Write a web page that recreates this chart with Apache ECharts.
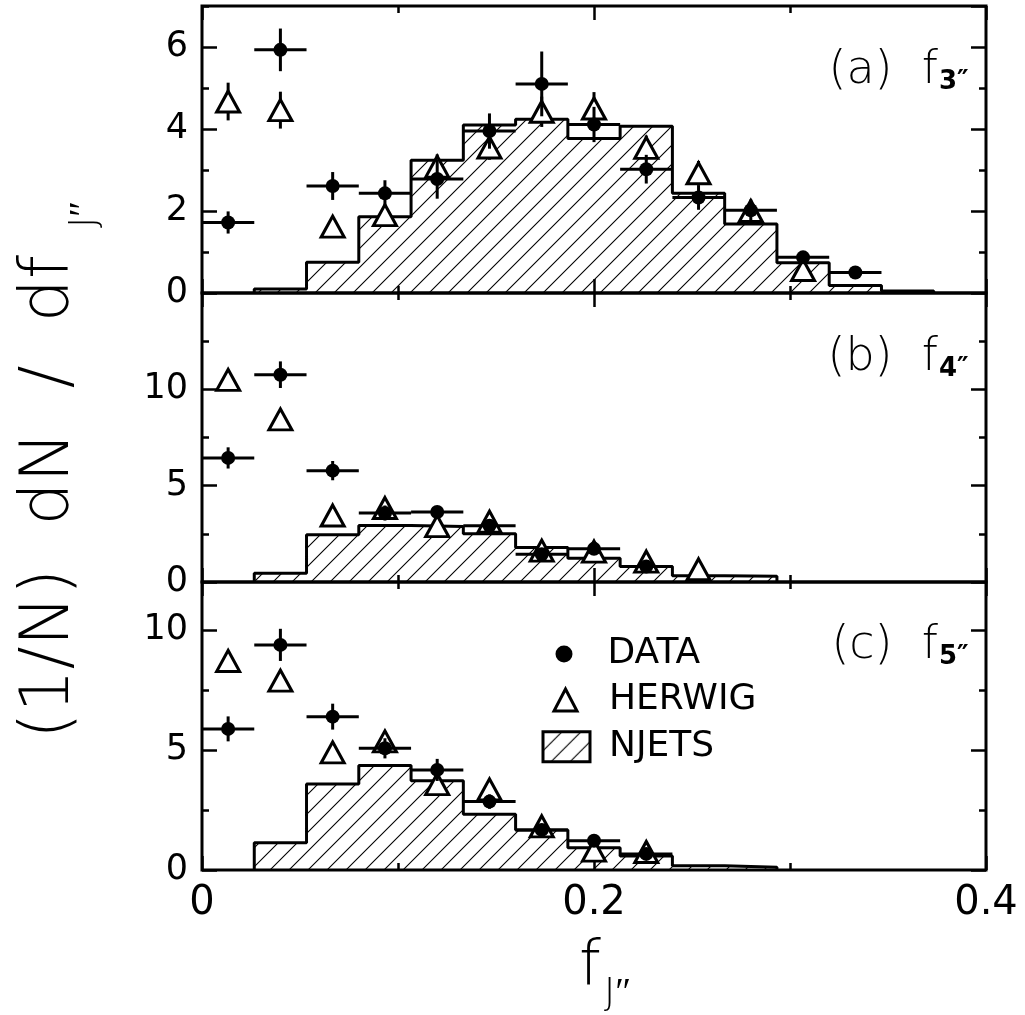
<!DOCTYPE html>
<html><head><meta charset="utf-8">
<script src="https://cdn.jsdelivr.net/npm/echarts@6/dist/echarts.min.js"></script>
<style>html,body{margin:0;padding:0;background:#fff}#c{width:1025px;height:1015px}</style>
</head><body><div id="c"></div>
<script>
// ---- bin layout: 15 bins over 0..0.4 ----
const binWidth = 0.4 / 15;

// ---- panel (a) f3'' ----
const dataA      = [1.72, 5.93, 2.61, 2.43, 2.78, 3.95, 5.10, 4.11, 3.02, 2.33, 2.02, 0.87, 0.50];
const dataAErr   = [0.27, 0.52, 0.34, 0.32, 0.48, 0.43, 0.79, 0.43, 0.35, 0.30, 0.26, 0.12, 0.08];
const herwigA    = [4.67, 4.46, 1.62, 1.90, 3.08, 3.55, 4.42, 4.50, 3.54, 2.92, 2.00, 0.56];
const herwigAErr = [0.46, 0.45, 0.20, 0.20, 0.30, 0.30, 0.37, 0.40, 0.30, 0.30, 0.20, 0.15];
const njetsA     = [0, 0.10, 0.75, 1.86, 3.24, 4.10, 4.24, 3.77, 4.07, 2.43, 1.68, 0.74, 0.18, 0.05];

// ---- panel (b) f4'' ----
const dataB      = [6.44, 10.76, 5.78, 3.58, 3.63, 2.92, 1.44, 1.72, 0.80];
const dataBErr   = [0.55, 0.69, 0.50, 0.39, 0.30, 0.30, 0.25, 0.25, 0.20];
const herwigB    = [10.49, 8.44, 3.45, 3.84, 2.90, 3.13, 1.63, 1.58, 1.06, 0.66];
const herwigBErr = [0.25, 0.25, 0.20, 0.20, 0.20, 0.20, 0.15, 0.15, 0.15, 0.10];
const njetsB     = [0, 0.45, 2.45, 2.93, 2.88, 2.50, 1.79, 1.23, 0.80, 0.33, 0.30];

// ---- panel (c) f5'' ----
const dataC      = [5.88, 9.38, 6.39, 5.07, 4.17, 2.85, 1.67, 1.22, 0.67];
const dataCErr   = [0.52, 0.67, 0.54, 0.42, 0.46, 0.30, 0.25, 0.20, 0.15];
const herwigC    = [8.71, 7.89, 4.90, 5.36, 3.58, 3.36, 1.82, 0.81, 0.75];
const herwigCErr = [0.25, 0.25, 0.20, 0.20, 0.20, 0.20, 0.15, 0.15, 0.15];
const njetsC     = [0, 1.14, 3.58, 4.35, 3.72, 2.32, 1.67, 0.93, 0.58, 0.18, 0.11];

// ---- tick labels / axis ranges ----
const xTickLabels = ['0', '0.2', '0.4'];
const panelLabels = ['(a)  f', '(b)  f', '(c)  f'];
const panelSubs   = ['3\u2033', '4\u2033', '5\u2033'];
const yMax   = [7, 15, 12];
const yMajor = [2, 5, 5];
const yMinor = [1, 2.5, 2.5];

const FONT = 'DejaVu Sans';

// hatch pattern
const pc = document.createElement('canvas');
pc.width = 19; pc.height = 19;
const ctx = pc.getContext('2d');
ctx.strokeStyle = '#000'; ctx.lineWidth = 1.1;
ctx.beginPath();
ctx.moveTo(0, 19); ctx.lineTo(19, 0);
ctx.moveTo(-2, 2); ctx.lineTo(2, -2);
ctx.moveTo(17, 21); ctx.lineTo(21, 17);
ctx.stroke();
const hatch = { image: pc, repeat: 'repeat' };

const center = k => (k + 0.5) * binWidth;
const edge = k => k * binWidth;

function stepData(vals) {
  let first = vals.findIndex(v => v > 0);
  const out = [[edge(first), 0]];
  for (let k = first; k < vals.length; k++) out.push([edge(k), vals[k]]);
  out.push([edge(vals.length), vals[vals.length - 1]]);
  out.push([edge(vals.length), 0]);
  return out;
}
const pts = (vals, errs) => vals.map((v, k) => errs ? [center(k), v, errs[k]] : [center(k), v]);

const tickStyle = { color: '#000', width: 2.5 };

function dataErrRender(params, api) {
  const x = api.value(0), y = api.value(1), e = api.value(2);
  const t = api.coord([x, y + e]), b = api.coord([x, y - e]);
  const l = api.coord([x - binWidth / 2, y]), r = api.coord([x + binWidth / 2, y]);
  return { type: 'group', children: [
    { type: 'line', shape: { x1: t[0], y1: t[1], x2: b[0], y2: b[1] }, style: { stroke: '#000', lineWidth: 3 } },
    { type: 'line', shape: { x1: l[0], y1: l[1], x2: r[0], y2: r[1] }, style: { stroke: '#000', lineWidth: 3 } }
  ]};
}
function mcErrRender(params, api) {
  const x = api.value(0), y = api.value(1), e = api.value(2);
  const t = api.coord([x, y + e]), b = api.coord([x, y - e]);
  return { type: 'line', shape: { x1: t[0], y1: t[1], x2: b[0], y2: b[1] }, style: { stroke: '#000', lineWidth: 3 } };
}

const grids = [
  { left: 202, right: 39, top: 6, height: 287 },
  { left: 202, right: 39, top: 293, height: 289 },
  { left: 202, right: 39, top: 582, height: 288 }
].map(g => Object.assign(g, { show: true, borderColor: '#000', borderWidth: 3, backgroundColor: 'transparent', containLabel: false }));

const xAxis = [], yAxis = [], series = [];
const panels = [
  [dataA, dataAErr, herwigA, herwigAErr, njetsA],
  [dataB, dataBErr, herwigB, herwigBErr, njetsB],
  [dataC, dataCErr, herwigC, herwigCErr, njetsC]
];
panels.forEach((p, g) => {
  const xb = { type: 'value', gridIndex: g, min: 0, max: 0.4, interval: 0.2,
    splitLine: { show: false }, minorSplitLine: { show: false },
    axisLine: { show: false, onZero: false },
    axisTick: { inside: true, length: 14, lineStyle: tickStyle },
    minorTick: { show: true, splitNumber: 2, length: 7, lineStyle: tickStyle } };
  xAxis.push(Object.assign({}, xb, { position: 'bottom',
    axisLabel: g === 2 ? { show: true, margin: 14, color: '#000', fontSize: 40, fontFamily: FONT,
      formatter: v => xTickLabels[Math.round(v / 0.2)] } : { show: false } }));
  xAxis.push(Object.assign({}, xb, { position: 'top', axisLabel: { show: false } }));
  const yb = { type: 'value', gridIndex: g, min: 0, max: yMax[g], splitLine: { show: false },
    axisLine: { show: false, onZero: false } };
  yAxis.push(Object.assign({}, yb, { position: 'left', interval: yMajor[g],
    axisTick: { inside: true, length: 15, lineStyle: tickStyle },
    axisLabel: { show: true, showMaxLabel: false, margin: 14, color: '#000', fontSize: 35, fontFamily: FONT } }));
  yAxis.push(Object.assign({}, yb, { position: 'left', interval: yMinor[g],
    axisTick: { inside: true, length: 7, lineStyle: tickStyle }, axisLabel: { show: false } }));
  yAxis.push(Object.assign({}, yb, { position: 'right', interval: yMajor[g],
    axisTick: { inside: true, length: 15, lineStyle: tickStyle }, axisLabel: { show: false } }));
  yAxis.push(Object.assign({}, yb, { position: 'right', interval: yMinor[g],
    axisTick: { inside: true, length: 7, lineStyle: tickStyle }, axisLabel: { show: false } }));
  const xi = 2 * g, yi = 4 * g;
  series.push({ type: 'line', name: 'NJETS', xAxisIndex: xi, yAxisIndex: yi, step: 'end', symbol: 'none',
    data: stepData(p[4]), lineStyle: { color: '#000', width: 3 }, itemStyle: { color: '#000' },
    areaStyle: { color: hatch, opacity: 1 }, z: 1, silent: true });
  series.push({ type: 'custom', name: 'HERWIG err', xAxisIndex: xi, yAxisIndex: yi, renderItem: mcErrRender,
    data: pts(p[2], p[3]), encode: { x: 0, y: 1 }, z: 2, silent: true });
  series.push({ type: 'scatter', name: 'HERWIG', xAxisIndex: xi, yAxisIndex: yi, symbol: 'triangle', symbolSize: [23, 21],
    data: pts(p[2]), itemStyle: { color: '#fff', borderColor: '#000', borderWidth: 3, opacity: 1 }, z: 3, silent: true });
  series.push({ type: 'custom', name: 'DATA err', xAxisIndex: xi, yAxisIndex: yi, renderItem: dataErrRender,
    data: pts(p[0], p[1]), encode: { x: 0, y: 1 }, z: 4, silent: true });
  series.push({ type: 'scatter', name: 'DATA', xAxisIndex: xi, yAxisIndex: yi, symbol: 'circle', symbolSize: 14,
    data: pts(p[0]), itemStyle: { color: '#000', opacity: 1 }, z: 5, silent: true });
});

const legTxt = (pad) => ({ fontSize: 36, color: '#000', fontFamily: FONT, lineHeight: 36, padding: [0, 0, 0, pad] });
const legend = [
  { data: [{ name: 'DATA', icon: 'circle', itemStyle: { color: '#000' } }], left: 555.5, top: 636,
    itemWidth: 17, itemHeight: 17, padding: 0, selectedMode: false, textStyle: legTxt(30) },
  { data: [{ name: 'HERWIG', icon: 'triangle', itemStyle: { color: '#fff', borderColor: '#000', borderWidth: 3 } }], left: 552.5, top: 682,
    itemWidth: 23, itemHeight: 22, padding: 0, selectedMode: false, textStyle: legTxt(27) },
  { data: [{ name: 'NJETS', icon: 'rect', itemStyle: { color: hatch, borderColor: '#000', borderWidth: 3 } }], left: 541.5, top: 728.7,
    itemWidth: 47, itemHeight: 30, padding: 0, selectedMode: false, textStyle: legTxt(14) }
];

const LIGHT = 200;
const mainCy = [71.5, 358.5, 646];
const graphic = [];
mainCy.forEach((cy, i) => {
  graphic.push({ type: 'text', x: 938, y: cy, style: { text: panelLabels[i], fontSize: 46, fontWeight: LIGHT, fontFamily: FONT, fill: '#000',
    align: 'right', verticalAlign: 'middle' } });
  graphic.push({ type: 'text', x: 939, y: cy + 11, style: { text: panelSubs[i], fontSize: 26, fontWeight: 'bold', fontFamily: FONT, fill: '#000',
    align: 'left', verticalAlign: 'middle' } });
});
// x axis title
graphic.push({ type: 'text', x: 590, y: 968, style: { text: 'f', fontSize: 62, fontWeight: LIGHT, fontFamily: FONT, fill: '#000', align: 'center', verticalAlign: 'middle' } });
graphic.push({ type: 'text', x: 604, y: 994, style: { text: 'J\u2033', fontSize: 38, fontWeight: LIGHT, fontFamily: FONT, fill: '#000', align: 'left', verticalAlign: 'middle' } });
// y axis title (rotated)
graphic.push({ type: 'text', x: 50, y: 497, rotation: Math.PI / 2, style: { text: '(1/N)  dN  /  df', fontSize: 68, fontWeight: LIGHT, fontFamily: FONT, fill: '#000', align: 'center', verticalAlign: 'middle' } });
graphic.push({ type: 'text', x: 85, y: 228, rotation: Math.PI / 2, style: { text: 'J\u2033', fontSize: 38, fontWeight: LIGHT, fontFamily: FONT, fill: '#000', align: 'left', verticalAlign: 'middle' } });

const chart = echarts.init(document.getElementById('c'), null, { renderer: 'canvas' });
chart.setOption({ animation: false, backgroundColor: '#fff', grid: grids, xAxis, yAxis, series, legend, graphic });
</script>
</body></html>
